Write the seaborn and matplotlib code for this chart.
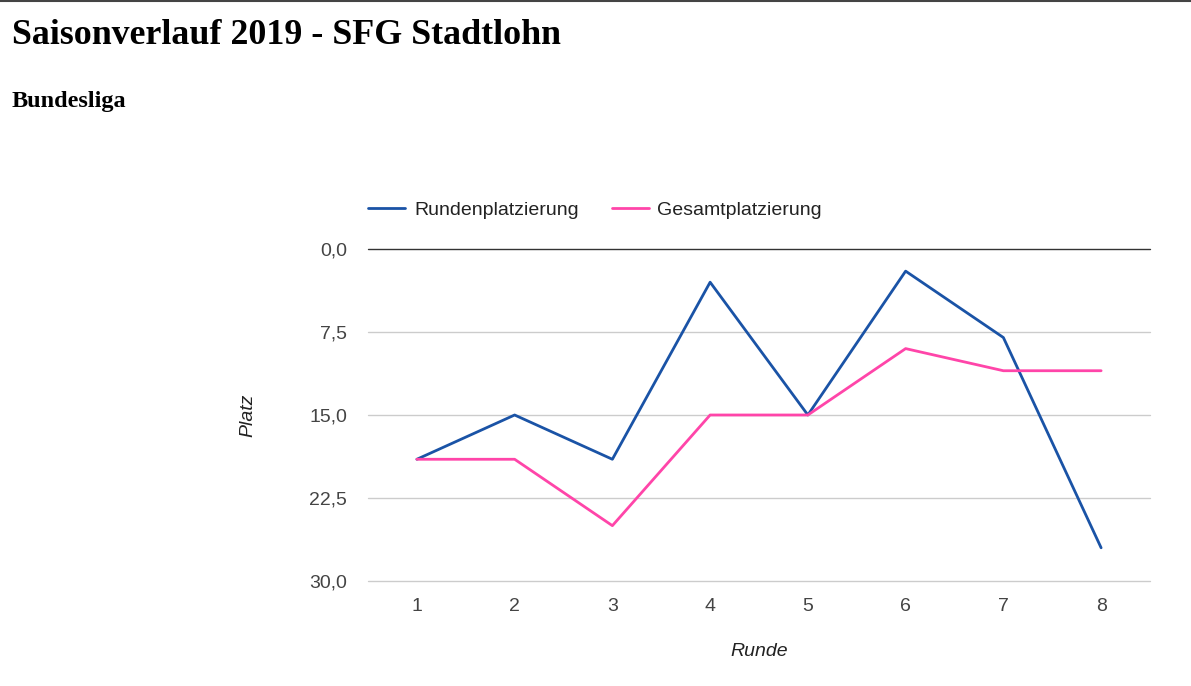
import pandas as pd
import matplotlib
matplotlib.use("Agg")
import matplotlib.pyplot as plt
import seaborn as sns
from matplotlib.lines import Line2D

# data
runden = [1, 2, 3, 4, 5, 6, 7, 8]
rundenplatzierung = [19, 15, 19, 3, 15, 2, 8, 27]
gesamtplatzierung = [19, 19, 25, 15, 15, 9, 11, 11]
y_ticks = [0.0, 7.5, 15.0, 22.5, 30.0]

BLUE = "#1a53a6"
PINK = "#ff45a9"

df = pd.DataFrame({
    "Runde": runden * 2,
    "Platz": rundenplatzierung + gesamtplatzierung,
    "Serie": ["Rundenplatzierung"] * 8 + ["Gesamtplatzierung"] * 8,
})

sns.set_style("white")
plt.rcParams["font.family"] = ["Liberation Sans", "DejaVu Sans"]

fig = plt.figure(figsize=(11.91, 6.86), dpi=100)
ax = fig.add_axes([368 / 1191, 1 - 581 / 686, (1150 - 368) / 1191, (581 - 249) / 686])

sns.lineplot(data=df, x="Runde", y="Platz", hue="Serie",
             palette={"Rundenplatzierung": BLUE, "Gesamtplatzierung": PINK},
             linewidth=2, ax=ax, legend=False, zorder=3)

ax.set_xlim(0.5, 8.5)
ax.set_ylim(30, 0)
ax.set_xticks(runden)
ax.set_yticks(y_ticks)
ax.set_yticklabels([f"{v:.1f}".replace(".", ",") for v in y_ticks])
ax.tick_params(length=0, labelsize=14, labelcolor="#444444")
ax.tick_params(axis="y", pad=15)
ax.tick_params(axis="x", pad=12.5)
for s in ax.spines.values():
    s.set_visible(False)
for v in y_ticks:
    ax.axhline(v, color="#333333" if v == 0 else "#cccccc", linewidth=1, zorder=1, clip_on=False)

ax.set_xlabel("Runde", fontsize=14, style="italic", color="#222222")
ax.set_ylabel("Platz", fontsize=14, style="italic", color="#222222")
ax.xaxis.set_label_coords(0.5, (581 - 643) / 332)
ax.yaxis.set_label_coords((256 - 368) / 782, 0.5)

handles = [Line2D([], [], color=BLUE, linewidth=2), Line2D([], [], color=PINK, linewidth=2)]
leg = ax.legend(handles, ["Rundenplatzierung", "Gesamtplatzierung"], ncol=2, frameon=False,
                loc="center left", bbox_to_anchor=(0, (581 - 210) / 332), borderaxespad=0, borderpad=0,
                handlelength=1.9, handletextpad=0.46, columnspacing=1.7, fontsize=14)
for t in leg.get_texts():
    t.set_color("#222222")

fig.text(12 / 1191, 1 - 36 / 686, "Saisonverlauf 2019 - SFG Stadtlohn", fontsize=25.8,
         fontweight="bold", family="Liberation Serif", va="center", ha="left", color="black")
fig.text(12 / 1191, 1 - 101 / 686, "Bundesliga", fontsize=17.5,
         fontweight="bold", family="Liberation Serif", va="center", ha="left", color="black")
fig.add_artist(Line2D([0, 1], [0.999, 0.999], color="#444444", linewidth=1.5,
                      transform=fig.transFigure))

fig.savefig("out.png", dpi=100)
